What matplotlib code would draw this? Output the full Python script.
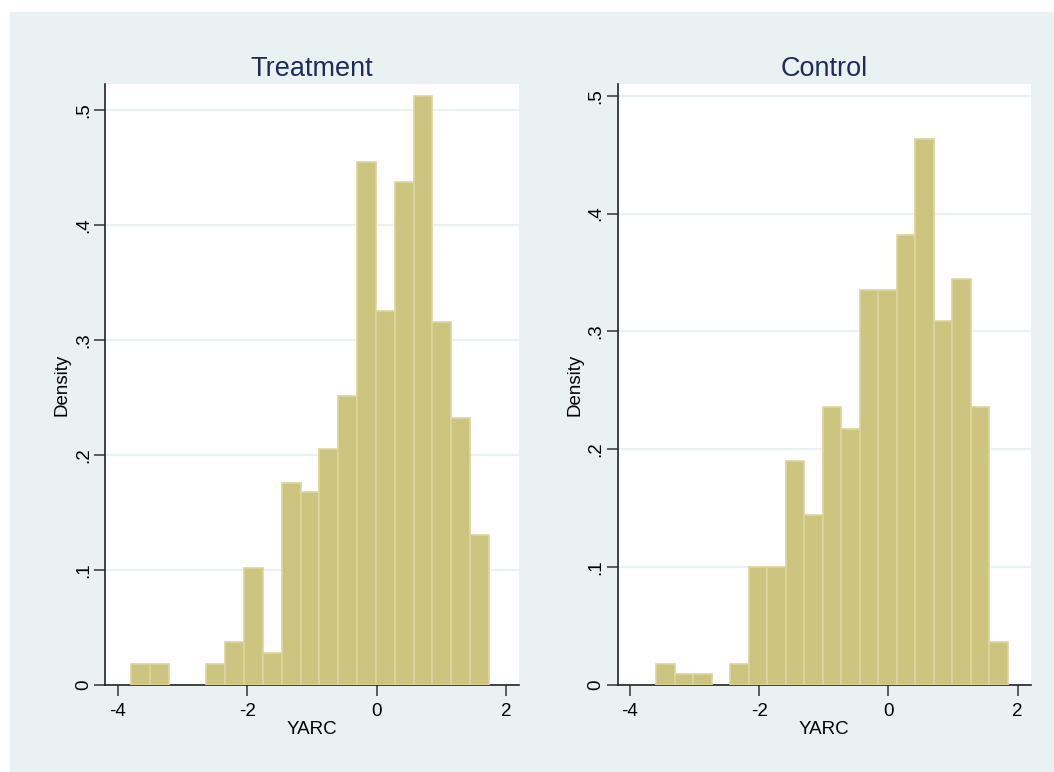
import matplotlib
matplotlib.use("Agg")
import matplotlib.pyplot as plt
import matplotlib.ticker as mticker
from matplotlib.patches import Rectangle
import numpy as np

plt.rcParams["font.family"] = ["Liberation Sans", "DejaVu Sans"]
plt.rcParams["axes.unicode_minus"] = False

# ---- data (density per bin) ----
treat_start = -3.80
treat_width = 0.2914
treat_density = [0.0185, 0.0185, 0.0, 0.0, 0.0185, 0.037, 0.102, 0.0275, 0.176,
                 0.1675, 0.205, 0.251, 0.455, 0.3255, 0.437, 0.512, 0.316, 0.2325, 0.130]

ctrl_start = -3.593
ctrl_width = 0.2862
ctrl_density = [0.0181, 0.0091, 0.0091, 0.0, 0.0181, 0.0999, 0.0999, 0.1904, 0.1446,
                0.2357, 0.2176, 0.3356, 0.3356, 0.3817, 0.4629, 0.3087, 0.3449, 0.2357, 0.0362]

x_ticks = [-4, -2, 0, 2]
y_ticks = [0, 0.1, 0.2, 0.3, 0.4, 0.5]

BG = "#EAF1F3"
BAR = "#CCC47F"
EDGE = "#DCD69E"
TITLE = "#1F2D56"


def ytick_fmt(v, pos):
    if abs(v) < 1e-9:
        return "0"
    return ("%.1f" % v).lstrip("0")


def draw_hist(ax, start, width, dens, title, ymax, xmin):
    dens = np.asarray(dens)
    lefts = start + width * np.arange(len(dens))
    keep = dens > 0  # empty bins draw nothing
    ax.bar(lefts[keep], dens[keep], width=width, align="edge", color=BAR,
           edgecolor=EDGE, linewidth=1.2, zorder=3)
    ax.set_xlim(xmin, 2.2)
    ax.set_ylim(0, ymax)
    ax.set_xticks(x_ticks)
    ax.set_yticks(y_ticks)
    ax.yaxis.set_major_formatter(mticker.FuncFormatter(ytick_fmt))
    for lab in ax.get_yticklabels():
        lab.set_rotation(90)
        lab.set_va("center")
    ax.tick_params(axis="both", labelsize=13.5, length=8, width=1.1, color="#333333")
    ax.tick_params(axis="x", pad=5)
    ax.tick_params(axis="y", pad=1.5)
    for y in y_ticks[1:]:
        ax.axhline(y, color=BG, lw=1.6, zorder=1)
    for s in ["top", "right"]:
        ax.spines[s].set_visible(False)
    for s in ["left", "bottom"]:
        ax.spines[s].set_color("#222222")
        ax.spines[s].set_linewidth(1.2)
    ax.set_xlabel("YARC", fontsize=13.5, labelpad=1)
    ax.set_ylabel("Density", fontsize=13.5, labelpad=3)
    ax.set_title(title, fontsize=19.5, color=TITLE, pad=6)
    ax.set_facecolor("white")


fig = plt.figure(figsize=(10.54, 7.72), dpi=100)
fig.patch.set_facecolor("white")
bg = Rectangle((10 / 1054, 0), 1, (772 - 12) / 772,
               transform=fig.transFigure, color=BG, zorder=-10)
fig.add_artist(bg)

ax1 = fig.add_axes([0.0999, 0.1127, 0.3925, 0.7785])
ax2 = fig.add_axes([0.5860, 0.1127, 0.3918, 0.7785])

draw_hist(ax1, treat_start, treat_width, treat_density, "Treatment", 0.5226, -4.196)
draw_hist(ax2, ctrl_start, ctrl_width, ctrl_density, "Control", 0.510, -4.19)

fig.savefig("out.png", dpi=100)
